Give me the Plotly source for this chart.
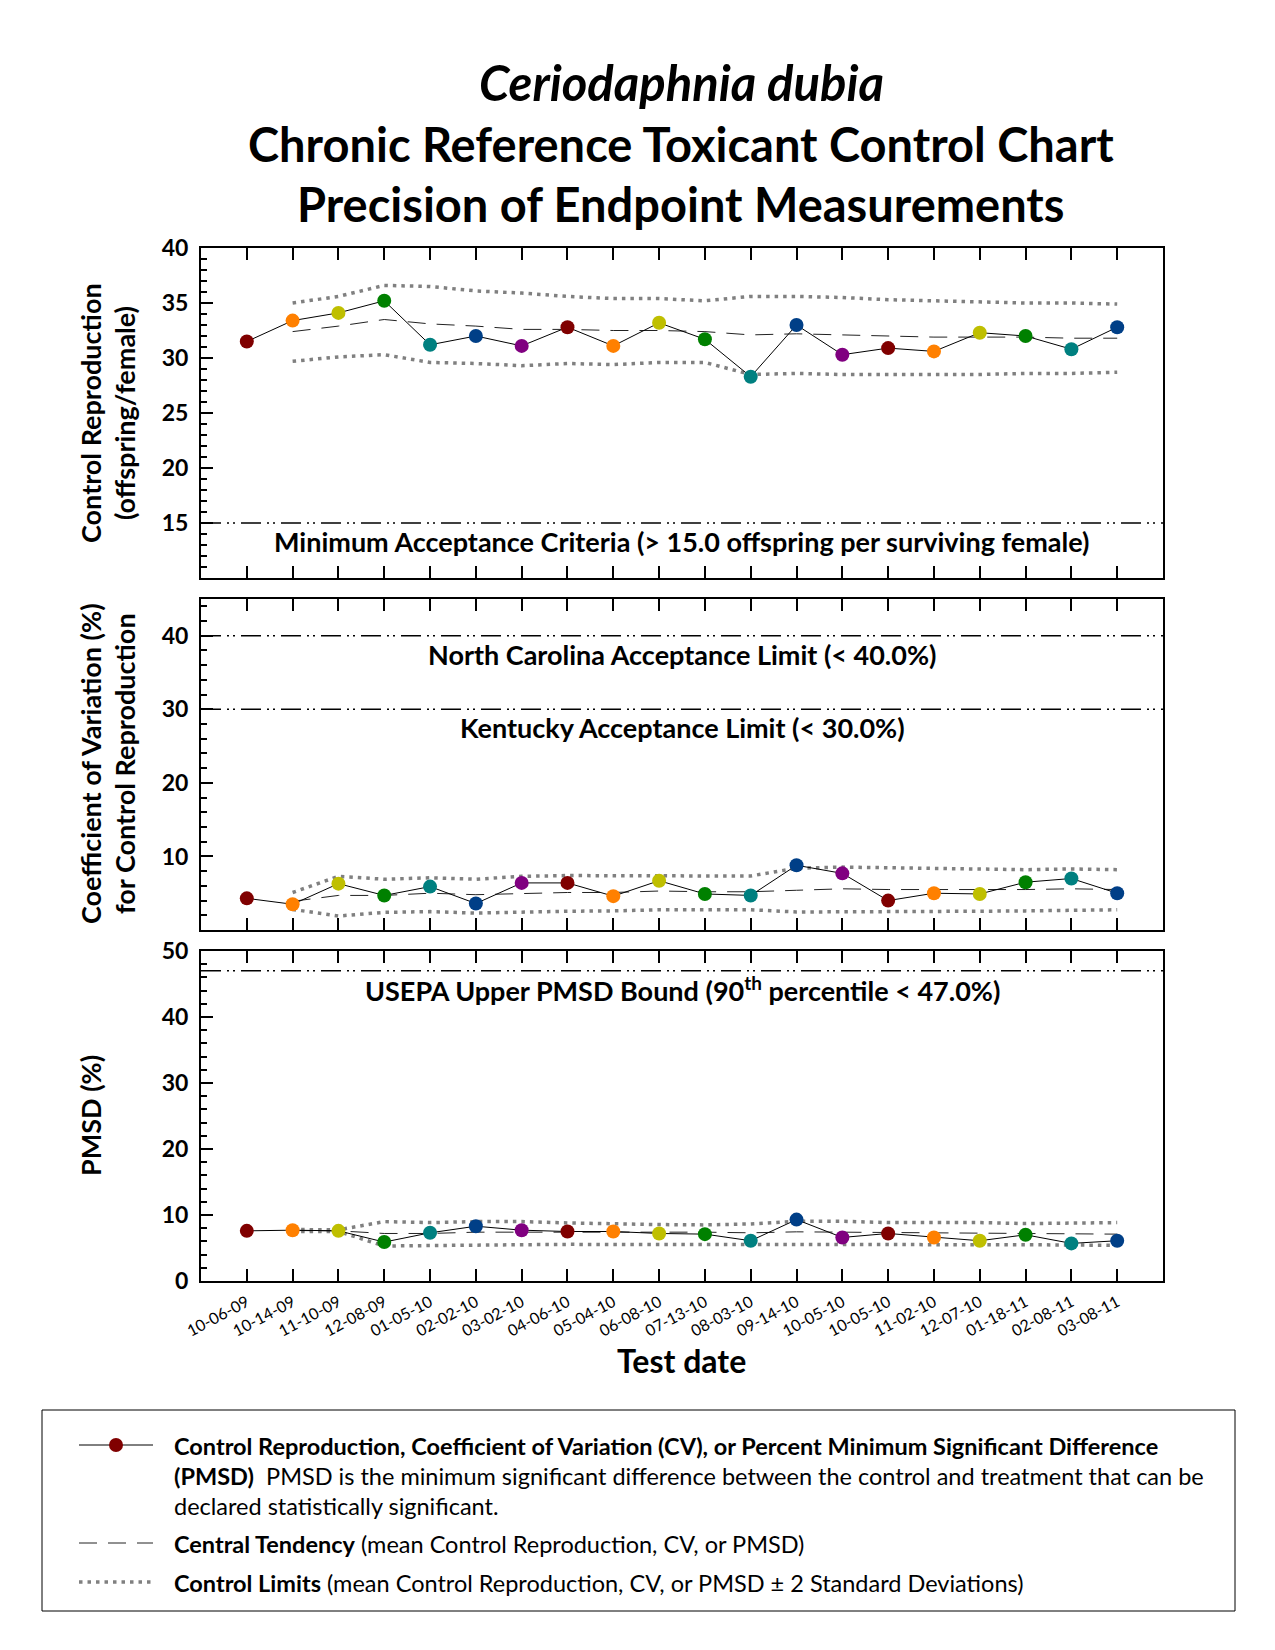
import plotly.graph_objects as go

# ---------------- data ----------------
test_dates = ["10-06-09", "10-14-09", "11-10-09", "12-08-09", "01-05-10", "02-02-10",
              "03-02-10", "04-06-10", "05-04-10", "06-08-10", "07-13-10", "08-03-10",
              "09-14-10", "10-05-10", "10-05-10", "11-02-10", "12-07-10", "01-18-11",
              "02-08-11", "03-08-11"]

repro = [31.5, 33.4, 34.1, 35.2, 31.2, 32.0, 31.1, 32.8, 31.1, 33.2,
         31.7, 28.3, 33.0, 30.3, 30.9, 30.6, 32.3, 32.0, 30.8, 32.8]
repro_mean = [None, 32.4, 32.9, 33.5, 33.1, 32.9, 32.6, 32.6, 32.5, 32.5,
              32.4, 32.1, 32.2, 32.1, 32.0, 31.9, 31.9, 31.9, 31.8, 31.8]
repro_ucl = [None, 35.0, 35.6, 36.6, 36.5, 36.1, 35.9, 35.6, 35.4, 35.4,
             35.2, 35.6, 35.6, 35.5, 35.3, 35.2, 35.1, 35.0, 35.0, 34.9]
repro_lcl = [None, 29.7, 30.1, 30.3, 29.6, 29.5, 29.3, 29.5, 29.4, 29.6,
             29.6, 28.5, 28.6, 28.5, 28.5, 28.5, 28.5, 28.6, 28.6, 28.7]

cv = [4.3, 3.5, 6.3, 4.7, 5.9, 3.6, 6.4, 6.4, 4.6, 6.7,
      4.9, 4.7, 8.8, 7.7, 4.0, 5.0, 4.9, 6.5, 7.0, 5.0]
cv_mean = [None, 3.9, 4.7, 4.7, 5.0, 4.8, 5.0, 5.1, 5.1, 5.3,
           5.2, 5.2, 5.4, 5.6, 5.5, 5.5, 5.4, 5.5, 5.6, 5.5]
cv_ucl = [None, 5.1, 7.3, 6.9, 7.1, 6.9, 7.3, 7.4, 7.35, 7.4,
          7.35, 7.35, 8.4, 8.55, 8.45, 8.4, 8.2, 8.2, 8.3, 8.2]
cv_lcl = [None, 2.8, 1.9, 2.4, 2.5, 2.3, 2.45, 2.55, 2.6, 2.75,
          2.75, 2.75, 2.45, 2.45, 2.45, 2.45, 2.55, 2.6, 2.7, 2.75]

pmsd = [7.6, 7.7, 7.6, 5.9, 7.3, 8.3, 7.7, 7.5, 7.5, 7.2,
        7.1, 6.1, 9.3, 6.6, 7.2, 6.6, 6.1, 7.0, 5.7, 6.1]
pmsd_mean = [None, 7.65, 7.6, 7.2, 7.2, 7.4, 7.4, 7.45, 7.45, 7.4,
             7.4, 7.3, 7.45, 7.4, 7.4, 7.3, 7.25, 7.25, 7.15, 7.1]
pmsd_ucl = [None, 7.8, 7.75, 9.0, 8.85, 9.0, 9.0, 8.8, 8.65, 8.55,
            8.5, 8.65, 9.05, 9.05, 8.85, 8.85, 8.85, 8.7, 8.75, 8.85]
pmsd_lcl = [None, 7.5, 7.5, 5.3, 5.4, 5.45, 5.5, 5.55, 5.55, 5.6,
            5.6, 5.6, 5.5, 5.5, 5.5, 5.5, 5.5, 5.5, 5.45, 5.4]

repro_limit = 15.0
nc_limit = 40.0
ky_limit = 30.0
pmsd_bound = 47.0

palette = ["#800000", "#FF8000", "#BFBF00", "#008000", "#008080", "#003F87", "#800080"]

# ---------------- geometry helpers ----------------
W, H = 1275, 1650
L, R, T, B = 201, 112, 248, 369
PW, PH = W - L - R, H - T - B


def px(X):
    return (X - L) / PW


def py(Y):
    return (H - B - Y) / PH


FONT = "Lato, 'Open Sans', sans-serif"
xs = list(range(len(test_dates)))
mcolors = [palette[i % len(palette)] for i in xs]

fig = go.Figure()

DOT = "3.5px,5px"
DASH = "18px,11px"
DASHDOT2 = "20px,6px,2px,4px,2px,6px"

panels = [
    ("x", "y", repro, repro_mean, repro_ucl, repro_lcl),
    ("x2", "y2", cv, cv_mean, cv_ucl, cv_lcl),
    ("x3", "y3", pmsd, pmsd_mean, pmsd_ucl, pmsd_lcl),
]
for xa, ya, vals, mean, ucl, lcl in panels:
    for lim in (ucl, lcl):
        fig.add_trace(go.Scatter(x=xs, y=lim, xaxis=xa, yaxis=ya, mode="lines",
                                 line=dict(color="#808080", width=3.5, dash=DOT),
                                 hoverinfo="skip", showlegend=False))
    fig.add_trace(go.Scatter(x=xs, y=mean, xaxis=xa, yaxis=ya, mode="lines",
                             line=dict(color="#222222", width=1, dash=DASH),
                             hoverinfo="skip", showlegend=False))
    fig.add_trace(go.Scatter(x=xs, y=vals, xaxis=xa, yaxis=ya, mode="lines+markers",
                             line=dict(color="black", width=1),
                             marker=dict(color=mcolors, size=14, line=dict(width=0)),
                             showlegend=False))

# horizontal limit lines
for xa, ya, yv in (("x", "y", repro_limit), ("x2", "y2", nc_limit),
                   ("x2", "y2", ky_limit), ("x3", "y3", pmsd_bound)):
    fig.add_shape(type="line", xref=xa + " domain", yref=ya, x0=0, x1=1, y0=yv, y1=yv,
                  line=dict(color="black", width=1.5, dash=DASHDOT2), layer="below")

common_x = dict(range=[-1, 20], tickmode="array", tickvals=xs, ticks="inside", ticklen=12,
                tickwidth=2, tickcolor="black", showline=True, linewidth=2, linecolor="black",
                mirror="ticks", showgrid=False, zeroline=False)
tickfont = dict(family=FONT, size=23, color="black", weight="bold")
common_y = dict(ticks="inside", ticklen=12, tickwidth=2, tickcolor="black", showline=True,
                linewidth=2, linecolor="black", mirror=True, showgrid=False, zeroline=False,
                tickfont=tickfont, ticklabelstandoff=6)

fig.update_layout(
    width=W, height=H,
    margin=dict(l=L, r=R, t=T, b=B, pad=0),
    paper_bgcolor="white", plot_bgcolor="white",
    showlegend=False,
    xaxis=dict(common_x, anchor="y", domain=[0, 1], showticklabels=False),
    xaxis2=dict(common_x, anchor="y2", domain=[0, 1], showticklabels=False),
    xaxis3=dict(common_x, anchor="y3", domain=[0, 1], showticklabels=True, ticktext=test_dates,
                tickangle=-28, ticklabelstandoff=4,
                tickfont=dict(family=FONT, size=16, color="black")),
    yaxis=dict(common_y, anchor="x", domain=[py(578), 1], range=[10, 40],
               tickvals=[15, 20, 25, 30, 35, 40],
               minor=dict(ticks="inside", ticklen=6, tickwidth=2, tickcolor="black",
                          tick0=10, dtick=1)),
    yaxis2=dict(common_y, anchor="x2", domain=[py(930), py(599)], range=[0, 45],
                tickvals=[10, 20, 30, 40],
                minor=dict(ticks="inside", ticklen=6, tickwidth=2, tickcolor="black",
                           tick0=0, dtick=2)),
    yaxis3=dict(common_y, anchor="x3", domain=[0, py(951)], range=[0, 50],
                tickvals=[0, 10, 20, 30, 40, 50],
                minor=dict(ticks="inside", ticklen=6, tickwidth=2, tickcolor="black",
                           tick0=0, dtick=2)),
)

ann = []


def text(x, y, s, size, bold=True, italic=False, xanchor="center", yanchor="middle",
         angle=0, xref="paper", yref="paper"):
    ann.append(dict(x=x, y=y, xref=xref, yref=yref, text=s, showarrow=False,
                    xanchor=xanchor, yanchor=yanchor, textangle=angle,
                    font=dict(family=FONT, size=size, color="black",
                              weight="bold" if bold else "normal",
                              style="italic" if italic else "normal")))


# titles
text(px(681), py(82), "Ceriodaphnia dubia", 49, bold=True, italic=True)
text(px(681), py(144), "Chronic Reference Toxicant Control Chart", 47)
text(px(681), py(204), "Precision of Endpoint Measurements", 47)

# in-plot labels
text(0.5, 13.35, "Minimum Acceptance Criteria (> 15.0 offspring per surviving female)", 27,
     yref="y")
text(0.5, 37.5, "North Carolina Acceptance Limit (< 40.0%)", 27, yref="y2")
text(0.5, 27.5, "Kentucky Acceptance Limit (< 30.0%)", 27, yref="y2")
text(0.5, 44.2, "USEPA Upper PMSD Bound (90<sup>th</sup> percentile < 47.0%)", 27, yref="y3")

# y-axis titles
text(px(90), py(413), "Control Reproduction", 27, angle=-90)
text(px(124), py(413), "(offspring/female)", 27, angle=-90)
text(px(90), py(764), "Coefficient of Variation (%)", 27, angle=-90)
text(px(124), py(764), "for Control Reproduction", 27, angle=-90)
text(px(90), py(1116), "PMSD (%)", 27, angle=-90)

# x-axis title
text(px(681), py(1360), "Test date", 32)

# legend box
fig.add_shape(type="rect", xref="paper", yref="paper", x0=px(42), x1=px(1235),
              y0=py(1611), y1=py(1410), line=dict(color="black", width=1))
fig.add_shape(type="line", xref="paper", yref="paper", x0=px(79), x1=px(153),
              y0=py(1445), y1=py(1445), line=dict(color="black", width=1))
fig.add_shape(type="circle", xref="paper", yref="paper", x0=px(109), x1=px(123),
              y0=py(1452), y1=py(1438), line=dict(width=0), fillcolor="#800000")
fig.add_shape(type="line", xref="paper", yref="paper", x0=px(79), x1=px(153),
              y0=py(1543), y1=py(1543), line=dict(color="#222222", width=1, dash=DASH))
fig.add_shape(type="line", xref="paper", yref="paper", x0=px(79), x1=px(153),
              y0=py(1582), y1=py(1582), line=dict(color="#808080", width=3.5, dash=DOT))

LX = px(172)
LS = 23.5
text(LX, py(1446), "Control Reproduction, Coefficient of Variation (CV), or Percent Minimum "
     "Significant Difference", LS, xanchor="left")
text(LX, py(1476), "<b>(PMSD)</b>&nbsp; PMSD is the minimum significant difference between the "
     "control and treatment that can be", LS, bold=False, xanchor="left")
text(LX, py(1506), "declared statistically significant.", LS, bold=False, xanchor="left")
text(LX, py(1544), "<b>Central Tendency</b> (mean Control Reproduction, CV, or PMSD)", LS,
     bold=False, xanchor="left")
text(LX, py(1583), "<b>Control Limits</b> (mean Control Reproduction, CV, or PMSD "
     "\u00b1 2 Standard Deviations)", LS, bold=False, xanchor="left")

fig.update_layout(annotations=ann)

fig.write_html("out.html", config={"displayModeBar": False},
               post_script="document.body.style.margin='0';")
